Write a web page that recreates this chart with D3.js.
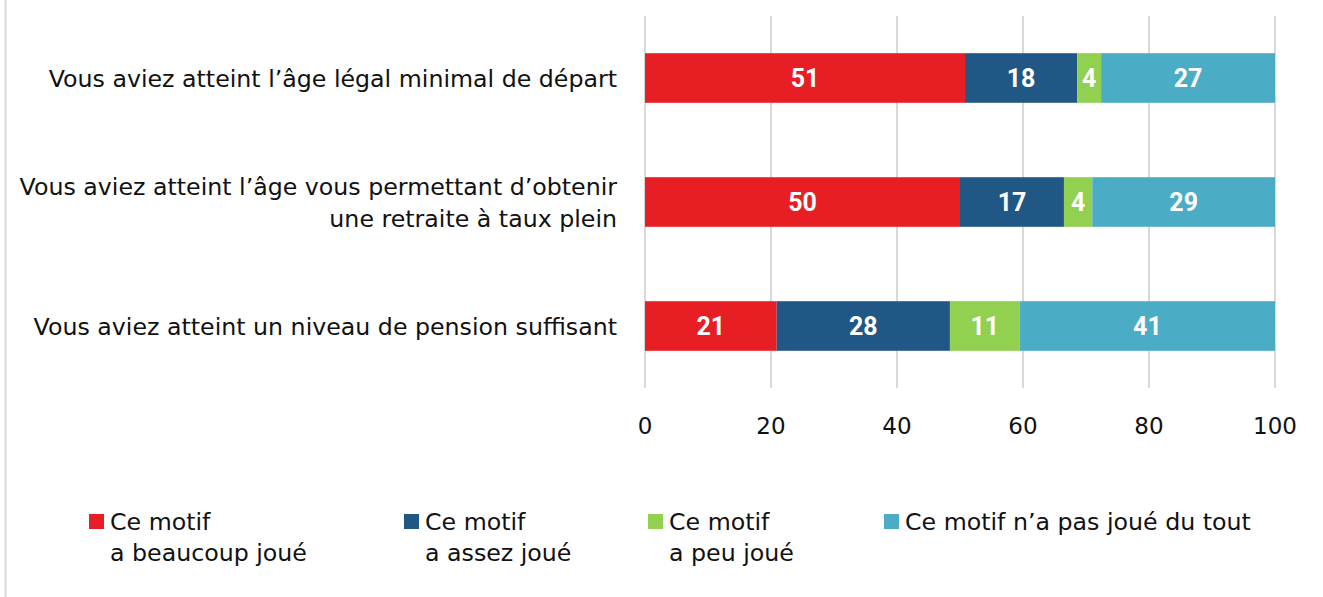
<!DOCTYPE html>
<html>
<head>
<meta charset="utf-8">
<script src="https://cdn.jsdelivr.net/npm/d3@7"></script>
<style>
  body { margin: 0; background: #fff; }
  svg { display: block; }
  text { font-family: "DejaVu Sans", sans-serif; }
</style>
</head>
<body>
<div id="chart"></div>
<script>
// categories (top to bottom)
var categories = [
  ["Vous aviez atteint l\u2019\u00e2ge l\u00e9gal minimal de d\u00e9part"],
  ["Vous aviez atteint l\u2019\u00e2ge vous permettant d\u2019obtenir", "une retraite \u00e0 taux plein"],
  ["Vous aviez atteint un niveau de pension suffisant"]
]
// one array per series, same order as categories (bar lengths)
var beaucoup = [50.8, 50.0, 20.9]
var assez = [17.8, 16.5, 27.5]
var peu = [3.8, 4.5, 11.1]
var pasDuTout = [27.6, 29.0, 40.5]
// printed labels
var beaucoupLbl = [51, 50, 21]
var assezLbl = [18, 17, 28]
var peuLbl = [4, 4, 11]
var pasDuToutLbl = [27, 29, 41]

var seriesNames = [
  ["Ce motif", "a beaucoup jou\u00e9"],
  ["Ce motif", "a assez jou\u00e9"],
  ["Ce motif", "a peu jou\u00e9"],
  ["Ce motif n\u2019a pas jou\u00e9 du tout"]
]
var colors = ["#e81e25", "#215785", "#92d050", "#4bacc6"]
var ticks = [0, 20, 40, 60, 80, 100]

var W = 1323, H = 597
var svg = d3.select("#chart").append("svg")
    .attr("width", W)
    .attr("height", H)

// left frame line
svg.append("line")
    .attr("x1", 5.5).attr("x2", 5.5)
    .attr("y1", 0).attr("y2", H)
    .attr("stroke", "#d9d9d9").attr("stroke-width", 2)

var x = d3.scaleLinear().domain([0, 100]).range([645, 1275])
var y = d3.scaleBand()
    .domain(d3.range(categories.length))
    .range([16, 388])
    .paddingInner(0.6)
    .paddingOuter(0.3)

// gridlines
svg.append("g").selectAll("line")
    .data(ticks)
  .enter().append("line")
    .attr("x1", function(d) { return x(d) })
    .attr("x2", function(d) { return x(d) })
    .attr("y1", 16)
    .attr("y2", 388)
    .attr("stroke", "#d9d9d9")
    .attr("stroke-width", 2)

// tick labels
svg.append("g").selectAll("text")
    .data(ticks)
  .enter().append("text")
    .attr("x", function(d) { return x(d) })
    .attr("y", 434)
    .attr("text-anchor", "middle")
    .attr("font-size", 23)
    .attr("fill", "#111")
    .text(function(d) { return d })

// stacked rows
var table = categories.map(function(c, i) {
  return [beaucoup[i], assez[i], peu[i], pasDuTout[i]]
})
var labels = categories.map(function(c, i) {
  return [beaucoupLbl[i], assezLbl[i], peuLbl[i], pasDuToutLbl[i]]
})

table.forEach(function(vals, i) {
  var start = 0
  var g = svg.append("g")
  vals.forEach(function(v, j) {
    var x0 = x(start), x1 = x(start + v)
    g.append("rect")
        .attr("x", x0)
        .attr("y", y(i))
        .attr("width", x1 - x0)
        .attr("height", y.bandwidth())
        .attr("fill", colors[j])
    g.append("text")
        .attr("x", (x0 + x1) / 2)
        .attr("y", y(i) + y.bandwidth() / 2)
        .attr("dy", "0.36em")
        .attr("text-anchor", "middle")
        .attr("font-size", 25)
        .attr("font-weight", "bold")
        .attr("fill", "#fff")
        .style("font-family", "'Liberation Sans Narrow', 'Roboto', sans-serif")
        .text(labels[i][j])
    start += v
  })
})

// category labels
categories.forEach(function(lines, i) {
  var cy = y(i) + y.bandwidth() / 2
  var lh = 32
  var top = cy - (lines.length - 1) * lh / 2
  var t = svg.append("text")
      .attr("text-anchor", "end")
      .attr("font-size", 23.7)
      .attr("fill", "#111")
  lines.forEach(function(l, k) {
    t.append("tspan")
        .attr("x", 617)
        .attr("y", top + k * lh)
        .attr("dy", "0.36em")
        .text(l)
  })
})

// legend
var legX = [89, 404, 648, 884]
var leg = svg.append("g")
seriesNames.forEach(function(lines, j) {
  leg.append("rect")
      .attr("x", legX[j])
      .attr("y", 514)
      .attr("width", 15)
      .attr("height", 15)
      .attr("fill", colors[j])
  var t = leg.append("text")
      .attr("font-size", 23.7)
      .attr("fill", "#111")
  lines.forEach(function(l, k) {
    t.append("tspan")
        .attr("x", legX[j] + 21)
        .attr("y", 530 + k * 31)
        .text(l)
  })
})
</script>
</body>
</html>
